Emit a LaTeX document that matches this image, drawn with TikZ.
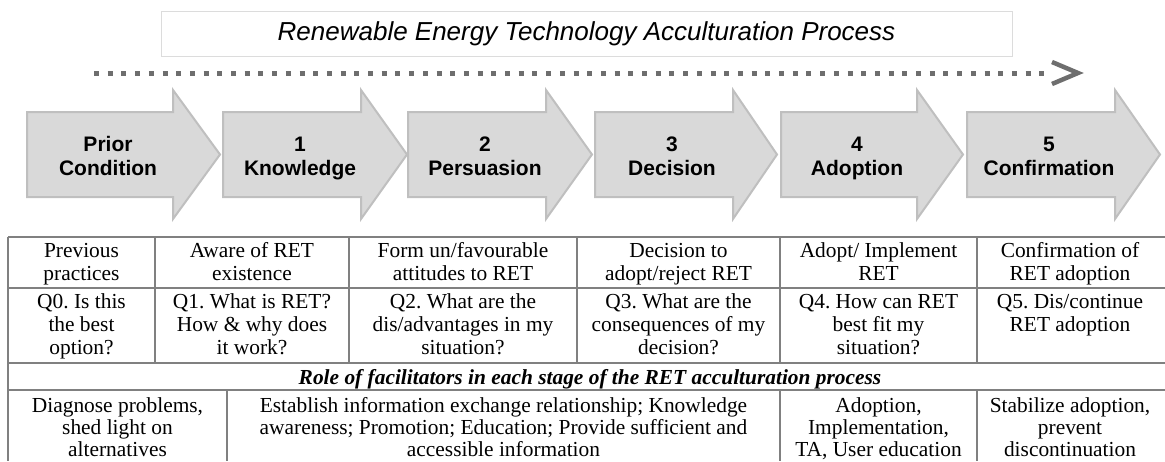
\documentclass[tikz,border=0pt]{standalone}
\usepackage{fontspec}
\setmainfont{Liberation Serif}
\newfontfamily\arialfont{Liberation Sans}
\definecolor{arrowfill}{HTML}{D9D9D9}
\definecolor{arrowline}{HTML}{BFBFBF}
\definecolor{dashcol}{HTML}{6E6E6E}
\definecolor{gridcol}{HTML}{808080}
\definecolor{titleline}{HTML}{DCDCDC}
\frenchspacing
\begin{document}
\begin{tikzpicture}[x=1pt,y=-1pt,
  stagearrow/.style={fill=arrowfill,draw=arrowline,line width=2pt,line join=miter},
  stagetext/.style={font=\arialfont\bfseries\fontsize{21}{24}\selectfont,align=center,inner sep=0pt},
  celltext/.style={font=\frenchspacing\fontsize{21.4}{23}\selectfont,align=center,inner sep=0pt},
  lowtext/.style={font=\frenchspacing\fontsize{21.4}{22}\selectfont,align=center,inner sep=0pt},
  gridline/.style={draw=gridcol,line width=1.6pt},
  processline/.style={draw=dashcol,line width=5pt,dash pattern=on 5pt off 8.7pt},
  processhead/.style={draw=dashcol,line width=4.5pt,line join=miter}]
\useasboundingbox (0,0) rectangle (1165,461);

% title
\node[draw=titleline,line width=1pt,minimum width=851pt,minimum height=45pt,inner sep=0pt,
  font=\arialfont\itshape\fontsize{26}{30}\selectfont] (title) at (586.5,33.5)
  {Renewable Energy Technology Acculturation Process};

% dashed process arrow
\coordinate (dstart) at (94,73);
\coordinate (dend) at (1048,73);
\coordinate (chevtop) at (1052,62);
\coordinate (chevtip) at (1078,73);
\coordinate (chevbot) at (1052,84);
\draw[processline] (dstart) -- (dend);
\draw[processhead] (chevtop) -- (chevtip) -- (chevbot);

% stage arrows
\foreach \l/\b/\t/\n/\txt in {
   27/173/220/prior/{\strut Prior\\\strut Condition},
   223/361/407/know/{\strut 1\\\strut Knowledge},
   408/546/592/pers/{\strut 2\\\strut Persuasion},
   595/733/777/deci/{\strut 3\\\strut Decision},
   781/917/963/adop/{\strut 4\\\strut Adoption},
   967/1115/1160/conf/{\strut 5\\\strut Confirmation}}{
  \draw[stagearrow] (\l,112) -- (\b,112) -- (\b,90) -- (\t,154.5) -- (\b,219) -- (\b,197) -- (\l,197) -- cycle;
  \node[stagetext] (s\n) at ({(\l+\b)/2+8},158.5) {\txt};
}

% table grid
\foreach \y in {237,288,363,390}{
  \draw[gridline] (8,\y) -- (1165,\y);
}
\draw[gridline] (8,237) -- (8,461);
\foreach \x in {155,349,577,780,977}{
  \draw[gridline] (\x,237) -- (\x,363);
}
\foreach \x in {227,780,977}{
  \draw[gridline] (\x,390) -- (\x,461);
}

% row 1
\node[celltext] (r1c1) at (81.5,264.5) {\strut Previous\\\strut practices};
\node[celltext] (r1c2) at (252,264.5) {\strut Aware of RET\\\strut existence};
\node[celltext] (r1c3) at (463,264.5) {\strut Form un/favourable\\\strut attitudes to RET};
\node[celltext] (r1c4) at (678.5,264.5) {\strut Decision to\\\strut adopt/reject RET};
\node[celltext] (r1c5) at (878.5,264.5) {\strut Adopt/ Implement\\\strut RET};
\node[celltext] (r1c6) at (1070,264.5) {\strut Confirmation of\\\strut RET adoption};

% row 2
\node[celltext,anchor=north] (r2c1) at (81.5,292.5) {\strut Q0. Is this\\the best\\option?};
\node[celltext,anchor=north] (r2c2) at (252,292.5) {\strut Q1. What is RET?\\How \& why does\\it work?};
\node[celltext,anchor=north] (r2c3) at (463,292.5) {\strut Q2. What are the\\dis/advantages in my\\situation?};
\node[celltext,anchor=north] (r2c4) at (678.5,292.5) {\strut Q3. What are the\\consequences of my\\decision?};
\node[celltext,anchor=north] (r2c5) at (878.5,292.5) {\strut Q4. How can RET\\best fit my\\situation?};
\node[celltext,anchor=north] (r2c6) at (1070,292.5) {\strut Q5. Dis/continue\\RET adoption};

% row 3
\node[celltext,font=\bfseries\itshape\fontsize{21.4}{23}\selectfont] (r3) at (590,379)
  {Role of facilitators in each stage of the RET acculturation process};

% row 4
\node[lowtext,anchor=north] (r4c1) at (117.5,397.2) {\strut Diagnose problems,\\shed light on\\alternatives};
\node[lowtext,anchor=north] (r4c2) at (503.5,397.2) {\strut Establish information exchange relationship; Knowledge\\awareness; Promotion; Education; Provide sufficient and\\accessible information};
\node[lowtext,anchor=north] (r4c3) at (878.5,397.2) {\strut Adoption,\\Implementation,\\TA, User education};
\node[lowtext,anchor=north] (r4c4) at (1070,397.2) {\strut Stabilize adoption,\\prevent\\discontinuation};
\end{tikzpicture}
\end{document}
